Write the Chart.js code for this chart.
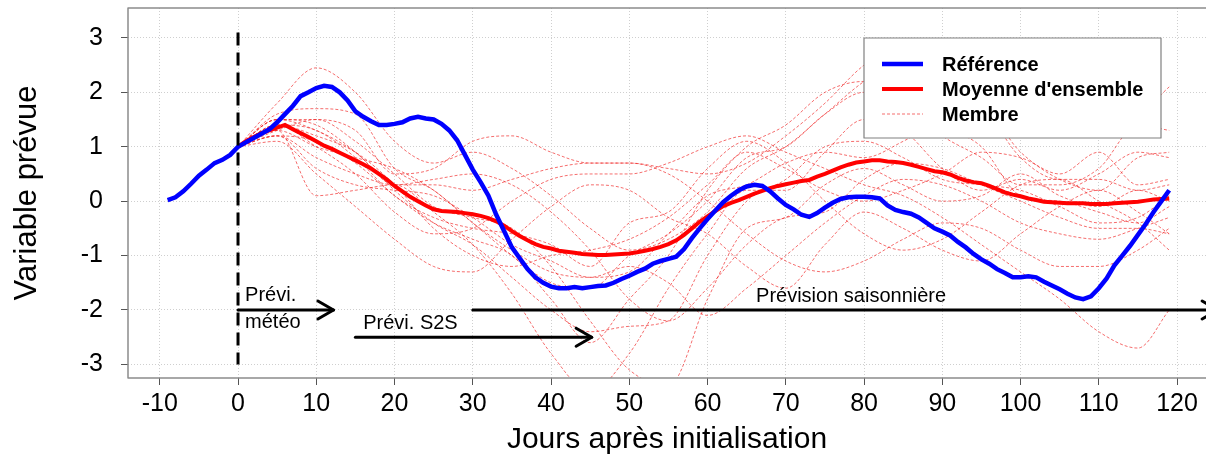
<!DOCTYPE html>
<html>
<head>
<meta charset="utf-8">
<script src="https://cdn.jsdelivr.net/npm/chart.js@4.4.1/dist/chart.umd.min.js"></script>
<style>
  html, body { margin: 0; padding: 0; background: #fff; }
  canvas { display: block; }
</style>
</head>
<body>
<canvas id="chart" width="1206" height="455"></canvas>
<script>
// --- data ---
var xTicks = [-10, 0, 10, 20, 30, 40, 50, 60, 70, 80, 90, 100, 110, 120];
var yTicks = [-3, -2, -1, 0, 1, 2, 3];

// reference (observed) trajectory, one value per day from day -9 to 119
var refStart = -9;
var refValues = [
  0.02, 0.07, 0.18, 0.32, 0.47, 0.58, 0.70, 0.76, 0.85,
  1.00, 1.08, 1.16, 1.24, 1.32, 1.45, 1.60, 1.75, 1.93, 2.00,
  2.08, 2.12, 2.10, 2.00, 1.85, 1.65, 1.55, 1.47, 1.40, 1.40,
  1.42, 1.45, 1.52, 1.55, 1.52, 1.50, 1.42, 1.30, 1.12, 0.85,
  0.58, 0.35, 0.10, -0.25, -0.55, -0.85, -1.05, -1.25, -1.40, -1.50,
  -1.57, -1.60, -1.60, -1.58, -1.60, -1.58, -1.56, -1.55, -1.50, -1.43,
  -1.37, -1.30, -1.24, -1.15, -1.10, -1.06, -1.02, -0.88, -0.68, -0.50,
  -0.33, -0.17, -0.02, 0.10, 0.20, 0.27, 0.30, 0.28, 0.18, 0.05,
  -0.07, -0.15, -0.25, -0.29, -0.22, -0.12, -0.03, 0.04, 0.07, 0.08,
  0.08, 0.07, 0.05, -0.08, -0.16, -0.20, -0.23, -0.30, -0.40, -0.50,
  -0.56, -0.63, -0.75, -0.85, -0.97, -1.07, -1.15, -1.25, -1.32, -1.40,
  -1.40, -1.38, -1.40, -1.48, -1.55, -1.62, -1.70, -1.77, -1.80, -1.75,
  -1.60, -1.42, -1.18, -1.00, -0.82, -0.62, -0.42, -0.20, 0.00, 0.20
];

// ensemble mean, one value per day from day 0 to 119
var meanStart = 0;
var meanValues = [
  1.00, 1.10, 1.18, 1.25, 1.30, 1.35, 1.40, 1.32, 1.25, 1.18,
  1.10, 1.02, 0.96, 0.89, 0.82, 0.75, 0.68, 0.60, 0.50, 0.40,
  0.28, 0.18, 0.08, 0.00, -0.08, -0.15, -0.18, -0.19, -0.20, -0.22,
  -0.24, -0.27, -0.31, -0.37, -0.45, -0.55, -0.64, -0.72, -0.79, -0.84,
  -0.87, -0.91, -0.93, -0.95, -0.97, -0.98, -0.99, -0.99, -0.98, -0.97,
  -0.96, -0.94, -0.91, -0.88, -0.84, -0.79, -0.72, -0.62, -0.50, -0.38,
  -0.28, -0.18, -0.09, -0.03, 0.02, 0.08, 0.14, 0.19, 0.24, 0.28,
  0.31, 0.34, 0.37, 0.39, 0.45, 0.50, 0.56, 0.62, 0.67, 0.71,
  0.73, 0.75, 0.75, 0.73, 0.72, 0.70, 0.67, 0.63, 0.59, 0.55,
  0.53, 0.49, 0.43, 0.38, 0.35, 0.33, 0.28, 0.22, 0.16, 0.12,
  0.09, 0.05, 0.02, -0.01, -0.02, -0.03, -0.04, -0.04, -0.04, -0.05,
  -0.05, -0.05, -0.04, -0.03, -0.02, -0.01, 0.01, 0.03, 0.04, 0.05
];

// ensemble members, sampled every 5 days
var memberDays = [0, 5, 10, 15, 20, 25, 30, 35, 40, 45, 50, 55, 60, 65, 70, 75, 80, 85, 90, 95, 100, 105, 110, 115, 119];
var member01 = [1.0, 1.8, 2.45, 2.0, 1.1, 0.7, 0.9, 0.6, 0.1, -0.5, -0.9, -0.7, -0.2, 0.6, 1.0, 1.6, 2.2, 2.6, 2.4, 2.1, 1.5, 1.3, 1.5, 1.6, 2.1];
var member02 = [1.0, 1.3, 0.1, 0.2, 0.3, -0.2, -0.8, -1.7, -2.8, -3.5, -2.8, -1.6, -0.6, 0.2, 0.2, 0.9, 1.5, 1.3, 0.6, 0.2, 0.4, 0.2, 0.5, 0.9, 0.8];
var member03 = [1.0, 1.5, 1.5, 1.3, 0.5, 0.6, 1.1, 1.2, 0.9, 0.7, 0.7, 0.6, 0.5, 0.7, 1.2, 1.8, 2.5, 2.9, 2.5, 1.8, 0.8, 0.4, 0.4, 0.2, 0.3];
var member04 = [1.0, 1.4, 1.0, 0.5, -0.2, -0.6, -0.5, 0.0, 0.4, 0.5, 0.5, 0.7, 1.0, 1.2, 0.9, 0.6, 0.3, 0.1, -0.3, -0.8, -1.3, -1.8, -2.4, -2.7, -2.0];
var member05 = [1.0, 1.2, 0.8, 0.5, 0.3, 0.4, 0.5, 0.3, -0.2, -0.9, -1.8, -2.2, -1.6, -0.8, -0.3, -0.2, 0.4, 0.7, 0.6, 0.3, 0.0, -0.3, -0.5, -0.5, -0.6];
var member06 = [1.0, 1.5, 1.3, 0.9, 0.3, 0.3, 0.2, 0.4, 0.6, 0.7, 0.7, 0.5, 0.0, -0.6, -1.1, -1.3, -1.1, -0.7, -0.4, -0.5, -0.9, -1.2, -1.2, -0.9, -0.5];
var member07 = [1.0, 1.6, 1.7, 1.6, 0.6, 0.2, -0.4, -1.0, -1.5, -1.6, -1.0, -0.6, 0.0, 0.8, 1.0, 1.6, 2.0, 1.8, 1.2, 0.8, 0.3, 0.3, 0.6, 1.4, 1.3];
var member08 = [1.0, 1.2, 0.6, 0.3, 0.2, 0.1, -0.3, -0.8, -1.1, -1.4, -1.2, -1.5, -2.1, -1.6, -1.0, -0.4, 0.1, 0.4, 0.3, 0.0, -0.4, -0.6, -0.7, -0.5, -0.3];
var member09 = [1.0, 1.3, 1.5, 1.1, 0.5, -0.1, -0.3, -0.5, -1.2, -2.2, -3.1, -3.4, -1.8, -0.5, -0.3, 0.3, 0.6, 0.3, 0.0, 0.1, 0.5, 0.1, -0.1, 0.2, 0.0];
var member10 = [1.0, 1.4, 1.2, 0.9, 0.3, -0.5, -1.0, -1.2, -1.0, -0.9, -0.7, -0.3, 0.3, 0.9, 0.6, 0.2, 0.0, 0.2, 0.5, 0.9, 0.8, 0.5, 0.9, 0.3, 0.4];
var member11 = [1.0, 1.1, 0.5, -0.1, -0.7, -1.2, -1.3, -0.7, -0.1, 0.3, 0.2, -0.3, -0.6, -1.2, -1.6, -0.8, -0.2, -0.5, -0.9, -1.1, -0.6, -0.1, 0.2, -0.2, -0.6];
var member12 = [1.0, 1.5, 1.4, 0.9, 0.2, -0.4, -0.8, -1.4, -2.0, -2.4, -2.3, -2.2, -1.0, 0.0, 0.4, 1.0, 1.1, 0.8, 0.4, 0.3, 0.2, -0.1, -0.4, -0.3, 0.1];
var member13 = [1.0, 1.3, 1.0, 0.8, 0.6, 0.2, -0.4, -0.9, -1.3, -1.4, -1.3, -0.6, 0.1, 0.3, 0.7, 0.9, 0.8, 1.1, 1.5, 1.7, 0.9, 0.4, 0.2, 0.8, 0.9];
var member14 = [1.0, 1.2, 1.1, 0.7, 0.1, -0.4, -0.7, -1.0, -1.8, -2.6, -1.8, -1.0, 0.2, 1.0, 1.4, 2.0, 2.2, 1.9, 1.4, 1.0, 0.1, 0.0, -0.2, -0.4, -0.1];
var member15 = [1.0, 1.4, 1.3, 0.8, 0.1, -0.3, -0.5, -0.6, -0.8, -1.2, -0.4, -0.2, 0.6, 1.1, 0.7, 0.0, -0.6, -0.9, -0.7, -0.2, 0.3, 0.4, 0.0, -0.4, -0.9];
var members = [member01, member02, member03, member04, member05, member06, member07, member08,
               member09, member10, member11, member12, member13, member14, member15];

// forecast-horizon annotations (day / value coordinates)
var initDay = 0;
var initSpan = [-3, 3.1];
var horizons = [
  { from: 0,  to: 12.2,  level: -2,   text: ['Prévi.', 'météo'], textDay: 0.9,  textLevel: [-1.73, -2.23] },
  { from: 15, to: 45.2,  level: -2.5, text: ['Prévi. S2S'],       textDay: 16,   textLevel: [-2.25] },
  { from: 30, to: 125.2, level: -2,   text: ['Prévision saisonnière'], textDay: 66.2, textLevel: [-1.75] }
];

var FONT = "'Liberation Sans', Arial, Helvetica, sans-serif";

function series(start, values) {
  return values.map(function (v, i) { return { x: start + i, y: v }; });
}

var datasets = [];
datasets.push({
  label: 'Référence',
  data: series(refStart, refValues),
  borderColor: '#0000ff',
  borderWidth: 4.5,
  pointRadius: 0,
  tension: 0,
  order: 1
});
datasets.push({
  label: "Moyenne d'ensemble",
  data: series(meanStart, meanValues),
  borderColor: '#ff0000',
  borderWidth: 4,
  pointRadius: 0,
  tension: 0,
  order: 2
});
members.forEach(function (m, k) {
  datasets.push({
    label: k === 0 ? 'Membre' : '',
    data: m.map(function (v, i) { return { x: memberDays[i], y: v }; }),
    borderColor: 'rgba(240,30,30,0.65)',
    borderWidth: 1,
    borderDash: [3, 2],
    pointRadius: 0,
    cubicInterpolationMode: 'monotone',
    order: 3
  });
});

function arrow(ctx, x1, y1, x2, y2, head) {
  var a = Math.atan2(y2 - y1, x2 - x1);
  ctx.beginPath();
  ctx.moveTo(x1, y1);
  ctx.lineTo(x2, y2);
  ctx.stroke();
  ctx.beginPath();
  ctx.moveTo(x2 - head * Math.cos(a - Math.PI / 6), y2 - head * Math.sin(a - Math.PI / 6));
  ctx.lineTo(x2, y2);
  ctx.lineTo(x2 - head * Math.cos(a + Math.PI / 6), y2 - head * Math.sin(a + Math.PI / 6));
  ctx.stroke();
}

var decorations = {
  id: 'decorations',
  afterDatasetsDraw: function (chart) {
    var ctx = chart.ctx, xs = chart.scales.x, ys = chart.scales.y, area = chart.chartArea;
    ctx.save();

    // dashed line at initialisation
    ctx.strokeStyle = '#000';
    ctx.lineWidth = 3;
    ctx.setLineDash([13, 7]);
    ctx.beginPath();
    ctx.moveTo(xs.getPixelForValue(initDay), ys.getPixelForValue(initSpan[1]));
    ctx.lineTo(xs.getPixelForValue(initDay), ys.getPixelForValue(initSpan[0]));
    ctx.stroke();
    ctx.setLineDash([]);

    // horizon arrows and their labels
    ctx.lineCap = 'round';
    ctx.lineJoin = 'round';
    ctx.font = '20px ' + FONT;
    ctx.fillStyle = '#000';
    ctx.textAlign = 'left';
    ctx.textBaseline = 'middle';
    horizons.forEach(function (h) {
      var yy = ys.getPixelForValue(h.level);
      arrow(ctx, xs.getPixelForValue(h.from), yy, xs.getPixelForValue(h.to), yy, 18);
      h.text.forEach(function (t, i) {
        ctx.fillText(t, xs.getPixelForValue(h.textDay), ys.getPixelForValue(h.textLevel[i]));
      });
    });

    // plot frame
    ctx.lineCap = 'butt';
    ctx.strokeStyle = '#8c8c8c';
    ctx.lineWidth = 1.5;
    ctx.strokeRect(area.left, area.top, area.right - area.left + 10, area.bottom - area.top);

    // legend box
    var bx = 864, by = 38, bw = 297, bh = 100;
    ctx.fillStyle = '#fff';
    ctx.fillRect(bx, by, bw, bh);
    ctx.strokeStyle = '#808080';
    ctx.lineWidth = 1.2;
    ctx.strokeRect(bx, by, bw, bh);
    var rows = [chart.data.datasets[0], chart.data.datasets[1], chart.data.datasets[2]];
    ctx.font = 'bold 20px ' + FONT;
    rows.forEach(function (ds, i) {
      var ry = by + 26 + i * 25;
      ctx.strokeStyle = ds.borderColor;
      ctx.lineWidth = ds.borderWidth;
      ctx.setLineDash(ds.borderDash || []);
      ctx.beginPath();
      ctx.moveTo(bx + 18, ry);
      ctx.lineTo(bx + 59, ry);
      ctx.stroke();
      ctx.setLineDash([]);
      ctx.fillStyle = '#000';
      ctx.fillText(ds.label, bx + 78, ry + 1);
    });
    ctx.restore();
  }
};

var chart = new Chart(document.getElementById('chart'), {
  type: 'line',
  data: { datasets: datasets },
  options: {
    responsive: false,
    animation: false,
    devicePixelRatio: 1,
    layout: { padding: { top: 8, right: 0, left: 0, bottom: 0 } },
    plugins: {
      legend: { display: false },
      tooltip: { enabled: false }
    },
    scales: {
      x: {
        type: 'linear',
        min: -14.06,
        max: 123.7,
        afterBuildTicks: function (s) { s.ticks = xTicks.map(function (v) { return { value: v }; }); },
        afterFit: function (s) { s.height = 77; s.paddingLeft = 0; s.paddingRight = 0; },
        border: { display: false, dash: [1, 2] },
        grid: { color: '#cfcfcf', lineWidth: 1, tickColor: '#555', tickLength: 7, tickWidth: 1 },
        ticks: {
          padding: 4,
          maxRotation: 0,
          autoSkip: false,
          color: '#000',
          font: { family: FONT, size: 25 },
          callback: function (v) { return String(v); }
        },
        title: {
          display: true,
          text: 'Jours après initialisation',
          color: '#000',
          font: { family: FONT, size: 30, lineHeight: 1 },
          padding: { top: 0, bottom: 0 }
        }
      },
      y: {
        type: 'linear',
        min: -3.25,
        max: 3.55,
        afterBuildTicks: function (s) { s.ticks = yTicks.map(function (v) { return { value: v }; }); },
        afterFit: function (s) { s.width = 128; s.paddingTop = 0; s.paddingBottom = 0; },
        border: { display: false, dash: [1, 2] },
        grid: { color: '#cfcfcf', lineWidth: 1, tickColor: '#555', tickLength: 7, tickWidth: 1 },
        ticks: {
          padding: 18,
          autoSkip: false,
          color: '#000',
          font: { family: FONT, size: 25 },
          callback: function (v) { return String(v); }
        },
        title: {
          display: true,
          text: 'Variable prévue',
          color: '#000',
          font: { family: FONT, size: 31, lineHeight: 1 },
          padding: { top: 12, bottom: 0 }
        }
      }
    }
  },
  plugins: [decorations]
});
</script>
</body>
</html>
